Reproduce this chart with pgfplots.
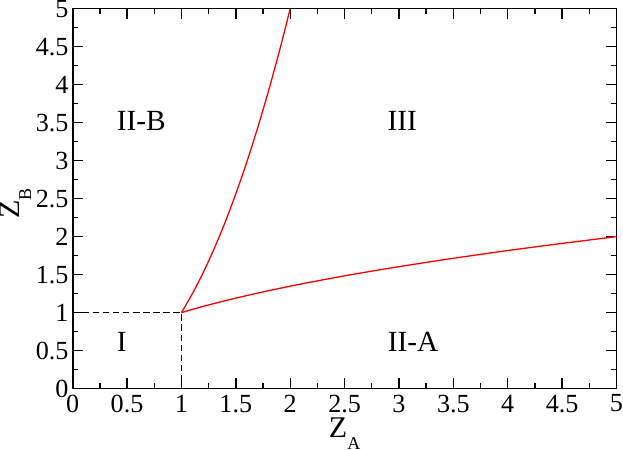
\documentclass[border=0pt]{standalone}
\usepackage{fontspec}
\setmainfont{Liberation Serif}
\usepackage{pgfplots}
\pgfplotsset{compat=1.18}

% one text size only; other sizes by scaling
\newcommand{\lbl}[2]{\scalebox{1.15}{#1}\raisebox{-11.5pt}{\scalebox{0.69}{#2}}}

\begin{document}
\fontsize{26}{28}\selectfont
\begin{tikzpicture}[x=1pt,y=1pt]
\begin{axis}[
  scale only axis,
  width=541pt, height=378pt,
  xmin=0, xmax=5, ymin=0, ymax=5,
  xtick={0,0.5,1,1.5,2,2.5,3,3.5,4,4.5,5},
  ytick={0,0.5,1,1.5,2,2.5,3,3.5,4,4.5,5},
  xticklabels={0,0.5,1,1.5,2,2.5,3,3.5,4,4.5,5},
  yticklabels={0,0.5,1,1.5,2,2.5,3,3.5,4,4.5,5},
  minor x tick num=1, minor y tick num=1,
  tick align=inside,
  major tick length=10.5pt, minor tick length=5.5pt,
  every tick/.style={black, line width=1.4pt},
  axis line style={line width=1.6pt},
  xticklabel style={inner sep=0pt, yshift=-6pt},
  yticklabel style={inner sep=0pt, xshift=-4pt},
  xlabel={\lbl{Z}{A}},
  ylabel={\lbl{Z}{B}},
  xlabel style={at={(axis description cs:0.5,0)}, anchor=north, inner sep=0pt, yshift=-29pt},
  ylabel style={at={(axis description cs:0,0.487)}, anchor=south, inner sep=0pt, yshift=41pt},
  clip=false,
]
% boundaries of region I
\addplot[black, line width=1.3pt, dash pattern=on 6.5pt off 3.5pt] coordinates {(0,1) (1,1) (1,0)};
% boundary II-B / III
\addplot[red, line width=1.3pt, smooth] coordinates {
  (1.0,1.0) (1.1,1.248) (1.2,1.527) (1.3,1.839) (1.4,2.184) (1.5,2.564)
  (1.6,2.978) (1.7,3.429) (1.8,3.915) (1.9,4.439) (2.0,5.0)
};
% boundary II-A / III
\addplot[red, line width=1.3pt, smooth] coordinates {
  (1.0,1.0) (1.1,1.042) (1.2,1.082) (1.3,1.120) (1.5,1.191) (1.75,1.273)
  (2.0,1.348) (2.25,1.418) (2.5,1.484) (2.75,1.546) (3.0,1.605)
  (3.5,1.715) (4.0,1.817) (4.5,1.911) (5.0,2.0)
};
\node[scale=1.12] at (axis cs:0.63,3.52) {II-B};
\node[scale=1.12] at (axis cs:3.03,3.52) {III};
\node[scale=1.12] at (axis cs:0.45,0.61) {I};
\node[scale=1.12] at (axis cs:3.13,0.615) {II-A};
\end{axis}
\end{tikzpicture}
\end{document}
